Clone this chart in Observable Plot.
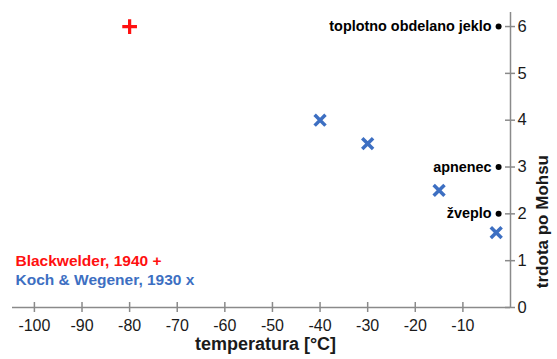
<!DOCTYPE html>
<html>
<head>
<meta charset="utf-8">
<script src="https://cdn.jsdelivr.net/npm/d3@7"></script>
<script src="https://cdn.jsdelivr.net/npm/@observablehq/plot@0.6"></script>
<style>
  html, body { margin: 0; padding: 0; background: #fff; }
  #chart svg { display: block; }
</style>
</head>
<body>
<div id="chart"></div>
<script>
const blackwelderTemp = [-80];
const blackwelderHard = [6];
const kochTemp = [-40, -30, -15, -3];
const kochHard = [4, 3.5, 2.5, 1.6];
const materialNames = ["toplotno obdelano jeklo", "apnenec", "žveplo"];
const materialTemp = [-2.5, -2.5, -2.5];
const materialHard = [6, 3, 2];
const xTicks = [-100, -90, -80, -70, -60, -50, -40, -30, -20, -10];
const xTickLabels = ["-100", "-90", "-80", "-70", "-60", "-50", "-40", "-30", "-20", "-10"];
const yTicks = [0, 1, 2, 3, 4, 5, 6];
const yTickLabels = ["0", "1", "2", "3", "4", "5", "6"];
const legendLabels = ["Blackwelder, 1940 +", "Koch & Wegener, 1930 x"];
const xLabel = "temperatura [°C]";
const yLabel = "trdota po Mohsu";

const red = "#ff1010";
const blue = "#3d6fc2";
const axisColor = "#8a8a8a";
const textColor = "#1a1a1a";
const font = "'Liberation Sans', Arial, sans-serif";

const blackwelder = blackwelderTemp.map((t, i) => ({t, h: blackwelderHard[i]}));
const koch = kochTemp.map((t, i) => ({t, h: kochHard[i]}));
const materials = materialNames.map((n, i) => ({n, t: materialTemp[i], h: materialHard[i]}));
const xt = xTicks.map((v, i) => ({v, l: xTickLabels[i]}));
const yt = yTicks.map((v, i) => ({v, l: yTickLabels[i]}));

const chart = Plot.plot({
  width: 557,
  height: 359,
  marginLeft: 12,
  marginRight: 47,
  marginTop: 12,
  marginBottom: 52,
  style: {fontFamily: font, background: "#fff"},
  x: {domain: [-104.6, 0], axis: null},
  y: {domain: [0, 6.3], axis: null},
  marks: [
    Plot.ruleY([0], {stroke: axisColor, strokeWidth: 1.5}),
    Plot.ruleX([0], {stroke: axisColor, strokeWidth: 1.5}),
    Plot.ruleX(xt, {x: "v", y1: 0, y2: 0, insetTop: -5, insetBottom: -5, stroke: axisColor, strokeWidth: 1.5}),
    Plot.ruleY(yt, {y: "v", x1: 0, x2: 0, insetLeft: -5, insetRight: -5, stroke: axisColor, strokeWidth: 1.5}),
    Plot.text(xt, {x: "v", y: 0, text: "l", dy: 18, fontSize: 16, fill: textColor}),
    Plot.text(yt, {x: 0, y: "v", text: "l", dx: 7, textAnchor: "start", fontSize: 16.5, fill: textColor}),
    Plot.text([xLabel], {frameAnchor: "bottom", dx: 4, dy: 42, fontSize: 18, fontWeight: "bold", fill: textColor}),
    Plot.text([yLabel], {frameAnchor: "right", dx: 32, dy: -5, rotate: -90, fontSize: 17, fontWeight: "bold", fill: textColor}),
    Plot.text([legendLabels[0]], {frameAnchor: "bottom-left", dx: 3, dy: -42, textAnchor: "start", fontSize: 15.5, fontWeight: "bold", fill: red}),
    Plot.text([legendLabels[1]], {frameAnchor: "bottom-left", dx: 3, dy: -23, textAnchor: "start", fontSize: 15.5, fontWeight: "bold", fill: blue}),
    Plot.dot(materials, {x: "t", y: "h", r: 3, fill: "#000"}),
    Plot.text(materials, {x: "t", y: "h", text: "n", dx: -7, textAnchor: "end", fontSize: 14.4, fontWeight: "bold", fill: "#000"}),
    Plot.dot(blackwelder, {x: "t", y: "h", symbol: "plus", r: 4.8, stroke: red, strokeWidth: 3.2}),
    Plot.dot(koch, {x: "t", y: "h", symbol: "times", r: 5, stroke: blue, strokeWidth: 3.5})
  ]
});
document.getElementById("chart").appendChild(chart);
</script>
</body>
</html>
